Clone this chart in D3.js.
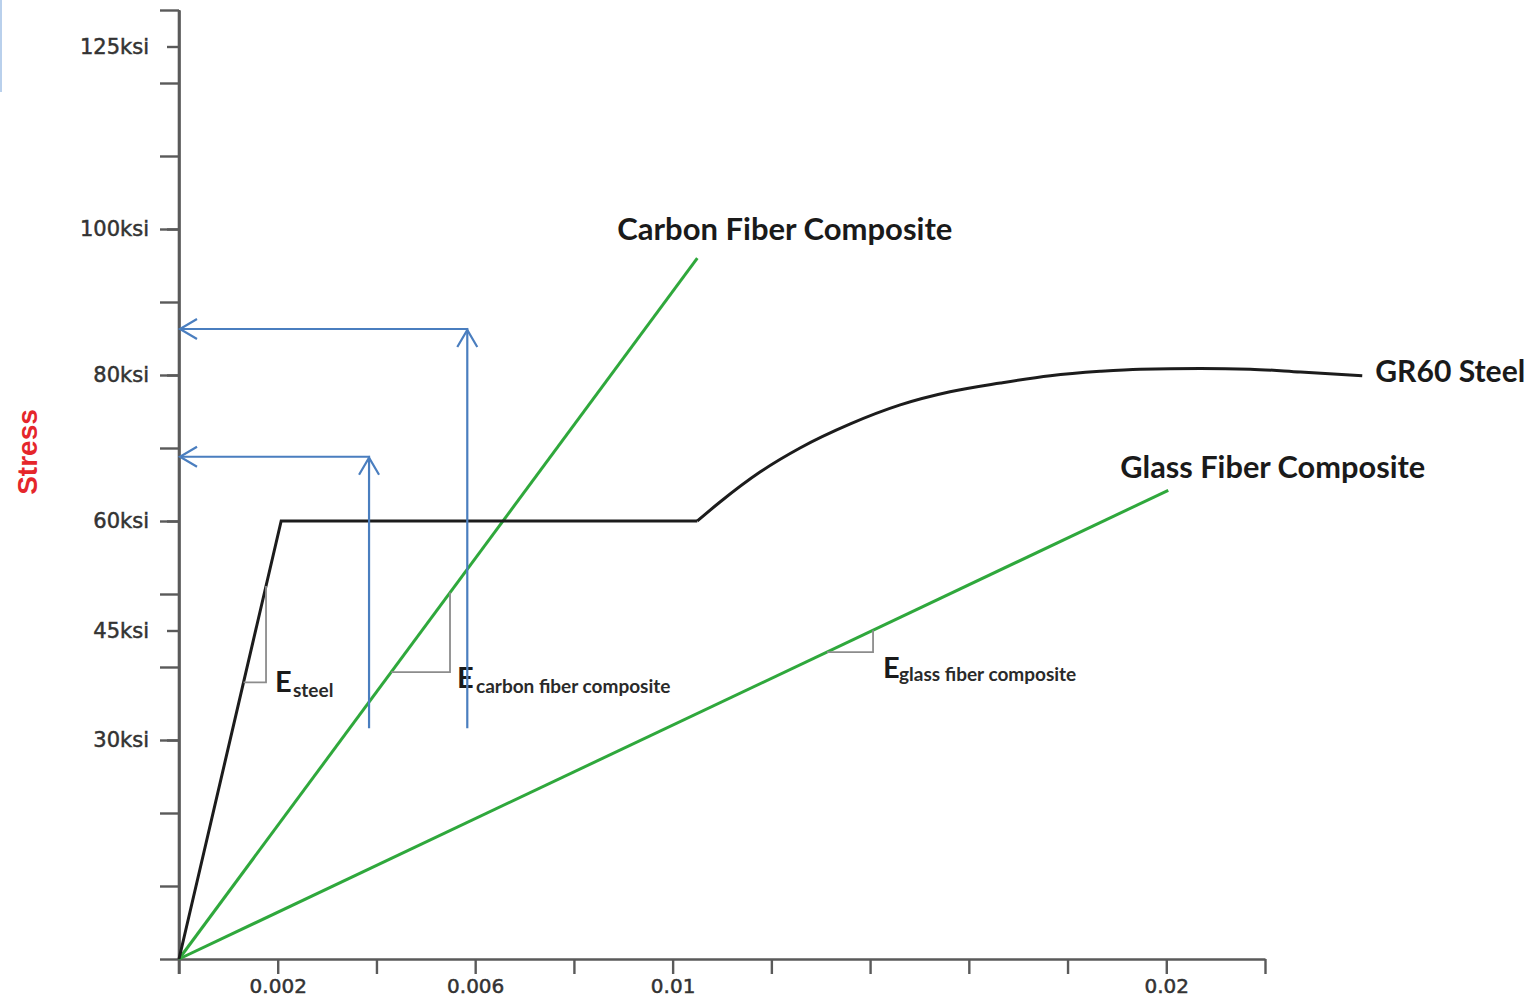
<!DOCTYPE html>
<html>
<head>
<meta charset="utf-8">
<script src="https://cdn.jsdelivr.net/npm/d3@7"></script>
<style>
  html, body { margin: 0; padding: 0; background: #fff; }
  svg { display: block; }
</style>
</head>
<body>
<svg id="chart" width="1537" height="1001"></svg>
<script>
// ---------- DATA ----------
const xTicks = [0, 0.002, 0.004, 0.006, 0.008, 0.01, 0.012, 0.014, 0.016, 0.018, 0.02, 0.022];
const xLabelValues = [0.002, 0.006, 0.01, 0.02];
const xLabelTexts = ["0.002", "0.006", "0.01", "0.02"];

const yGridTicks = [0, 10, 20, 30, 40, 50, 60, 70, 80, 90, 100, 110, 120, 130];
const yLabelValues = [30, 45, 60, 80, 100, 125];
const yLabelTexts = ["30ksi", "45ksi", "60ksi", "80ksi", "100ksi", "125ksi"];

// GR60 steel: elastic + yield plateau
const steelStrain = [0, 0.00207, 0.0105];
const steelStress = [0, 60, 60];
// GR60 steel: strain hardening
const hardenStrain = [0.0105, 0.01096, 0.01177, 0.01258, 0.0136, 0.01461, 0.01562, 0.01664, 0.01765, 0.01866, 0.01947, 0.02069, 0.0217, 0.02272, 0.02397];
const hardenStress = [60, 62.6, 66.7, 70.0, 73.3, 75.9, 77.7, 78.9, 79.9, 80.5, 80.8, 80.9, 80.8, 80.4, 79.9];

const carbonStrain = [0, 0.0105];
const carbonStress = [0, 96];
const glassStrain = [0, 0.02004];
const glassStress = [0, 64.2];

const seriesNames = ["GR60 Steel", "Carbon Fiber Composite", "Glass Fiber Composite"];

// blue read-off arrows
const arrowStrain = [0.00385, 0.00584];
const arrowFrom = [31.6, 31.6];
const arrowTo = [68.8, 86.3];

// modulus slope triangles
const triSub = ["steel", "carbon fiber composite", "glass fiber composite"];
const triStress = [37.9, 39.3, 42.05];
const triStrain = [0.001763, 0.00549, 0.01406];

// ---------- LAYOUT ----------
const svg = d3.select("#chart");
svg.append("rect").attr("width", 1537).attr("height", 1001).attr("fill", "#fff");

const x = d3.scaleLinear().domain([0, 0.022]).range([179, 1265]);
const y = d3.scaleLinear().domain([0, 130]).range([959, 10]);

const axisColor = "#5a5a5a";
const labelFont = "'DejaVu Sans', sans-serif";
const annoFont = "Lato, 'Open Sans', sans-serif";

// faint blue edge artifact at top-left
svg.append("line").attr("x1", 1).attr("x2", 1).attr("y1", 0).attr("y2", 92)
  .attr("stroke", "#b9d0ec").attr("stroke-width", 2);

// ---------- AXES ----------
const yGrid = svg.append("g").attr("transform", `translate(${x(0)},0)`)
  .call(d3.axisLeft(y).tickValues(yGridTicks).tickSize(19).tickSizeOuter(0).tickFormat(""));
const yLab = svg.append("g").attr("transform", `translate(${x(0)},0)`)
  .call(d3.axisLeft(y).tickValues(yLabelValues).tickSize(12).tickSizeOuter(0).tickPadding(18)
    .tickFormat(d => yLabelTexts[yLabelValues.indexOf(d)]));
const xAx = svg.append("g").attr("transform", `translate(0,${y(0)})`)
  .call(d3.axisBottom(x).tickValues(xTicks).tickSize(15).tickSizeOuter(0).tickPadding(5)
    .tickFormat(d => {
      const k = xLabelValues.findIndex(v => Math.abs(v - d) < 1e-9);
      return k >= 0 ? xLabelTexts[k] : "";
    }));

[yGrid, yLab, xAx].forEach(g => {
  g.selectAll("path.domain").attr("stroke", axisColor).attr("stroke-width", 2.6);
  g.selectAll(".tick line").attr("stroke", axisColor).attr("stroke-width", 2.4);
  g.selectAll(".tick text")
    .attr("fill", "#333").attr("stroke", "#333").attr("stroke-width", 0.5)
    .style("font-family", labelFont).style("font-size", "21px");
});
xAx.selectAll(".tick text").style("font-size", "20px");
// y domain extends up to the top and just below the x axis
yGrid.select("path.domain").attr("d", `M0,${y(130)}V${y(0) + 15}`);

// ---------- SERIES ----------
const lineGen = d3.line().x(d => x(d[0])).y(d => y(d[1]));
const zip = (a, b) => a.map((v, i) => [v, b[i]]);

const green = "#2fa83c";
svg.append("path").datum(zip(glassStrain, glassStress))
  .attr("d", lineGen).attr("fill", "none").attr("stroke", green).attr("stroke-width", 3);
svg.append("path").datum(zip(carbonStrain, carbonStress))
  .attr("d", lineGen).attr("fill", "none").attr("stroke", green).attr("stroke-width", 3);
svg.append("path").datum(zip(steelStrain, steelStress))
  .attr("d", lineGen).attr("fill", "none").attr("stroke", "#1c1c1c").attr("stroke-width", 3)
  .attr("stroke-linejoin", "miter");
svg.append("path").datum(zip(hardenStrain, hardenStress))
  .attr("d", d3.line().x(d => x(d[0])).y(d => y(d[1])).curve(d3.curveMonotoneX))
  .attr("fill", "none").attr("stroke", "#1c1c1c").attr("stroke-width", 3);

// ---------- SLOPE TRIANGLES ----------
const moduli = [steelStress[1] / steelStrain[1], carbonStress[1] / carbonStrain[1], glassStress[1] / glassStrain[1]];
const eOffsets = [[9, 10], [7, 16], [10, 26]];
const subOffsets = [[27, 15], [26, 21], [26, 29]];
triStress.forEach((s, i) => {
  const xs = x(s / moduli[i]);
  const xe = x(triStrain[i]);
  const yh = y(s);
  const yt = y(moduli[i] * triStrain[i]);
  svg.append("path").attr("d", `M${xs},${yh}H${xe}V${yt}`)
    .attr("fill", "none").attr("stroke", "#8c8c8c").attr("stroke-width", 1.8);
  svg.append("text").attr("x", xe + eOffsets[i][0]).attr("y", yh + eOffsets[i][1])
    .text("E").style("font-family", annoFont).style("font-weight", 700)
    .style("font-size", "29px").attr("fill", "#1a1a1a");
  svg.append("text").attr("x", xe + subOffsets[i][0]).attr("y", yh + subOffsets[i][1])
    .text(triSub[i]).style("font-family", annoFont).style("font-weight", 700)
    .style("font-size", "19px").attr("fill", "#2a2a2a");
});

// ---------- BLUE ARROWS ----------
const blue = "#4a7ebf";
arrowStrain.forEach((st, i) => {
  const ax = x(st), yb = y(arrowFrom[i]), yt = y(arrowTo[i]), x0 = x(0);
  svg.append("path").attr("d", `M${ax},${yb}V${yt}H${x0 + 1}`)
    .attr("fill", "none").attr("stroke", blue).attr("stroke-width", 2.2);
  svg.append("path").attr("d", `M${ax - 10},${yt + 18}L${ax},${yt + 1}L${ax + 10},${yt + 18}`)
    .attr("fill", "none").attr("stroke", blue).attr("stroke-width", 2.2);
  svg.append("path").attr("d", `M${x0 + 18},${yt - 10}L${x0 + 1},${yt}L${x0 + 18},${yt + 10}`)
    .attr("fill", "none").attr("stroke", blue).attr("stroke-width", 2.2);
});

// ---------- SERIES LABELS ----------
function fitText(sel, targetW) {
  const w = sel.node().getComputedTextLength();
  const fs = parseFloat(sel.style("font-size"));
  sel.style("font-size", (fs * targetW / w).toFixed(2) + "px");
}
const endPts = [
  [hardenStrain[hardenStrain.length - 1], hardenStress[hardenStress.length - 1]],
  [carbonStrain[1], carbonStress[1]],
  [glassStrain[1], glassStress[1]]
];
const labelOff = [[13, 6], [-80, -18], [-48, -12]];
const labelW = [150, 335, 305];
seriesNames.forEach((n, i) => {
  const t = svg.append("text")
    .attr("x", x(endPts[i][0]) + labelOff[i][0]).attr("y", y(endPts[i][1]) + labelOff[i][1])
    .text(n).style("font-family", annoFont).style("font-weight", 700)
    .style("font-size", "30px").attr("fill", "#1a1a1a");
  fitText(t, labelW[i]);
});

// ---------- Y TITLE ----------
svg.append("text")
  .attr("transform", "translate(37,452) rotate(-90)")
  .attr("text-anchor", "middle")
  .text("Stress")
  .style("font-family", "'Liberation Sans', Arial, sans-serif")
  .style("font-weight", 700).style("font-size", "28px").attr("fill", "#e5262b");
</script>
</body>
</html>
